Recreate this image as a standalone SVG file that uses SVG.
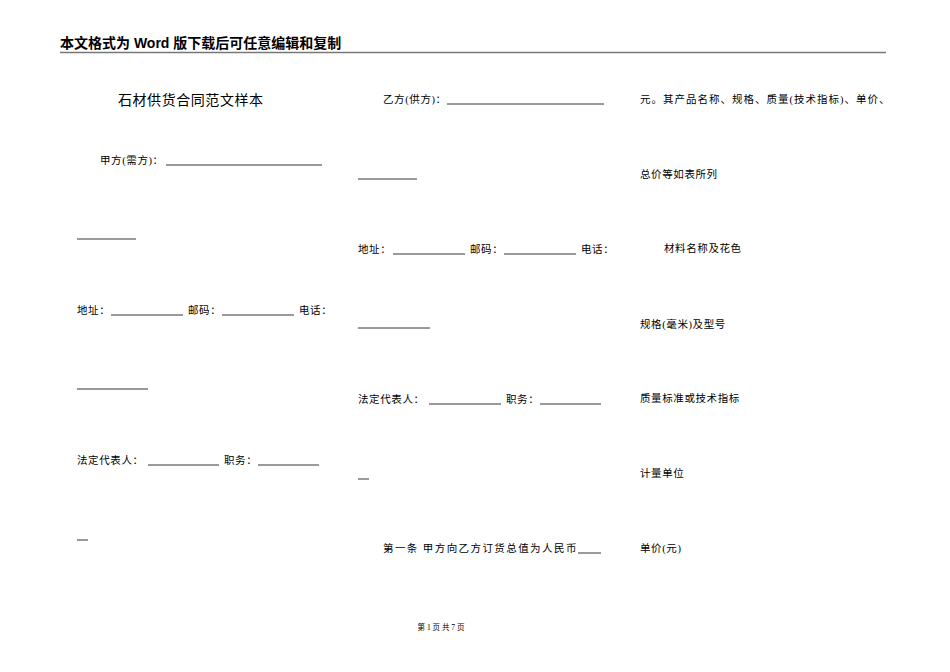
<svg xmlns="http://www.w3.org/2000/svg" width="950" height="672" viewBox="0 0 950 672">
<style>
.t{font-family:"Liberation Serif","Noto Sans CJK SC",serif;font-size:10.5px;fill:#000;letter-spacing:0.6px}
.h{font-family:"Liberation Sans","Noto Sans CJK SC",sans-serif;font-size:14px;fill:#000}
.u{stroke:#000;stroke-width:0.8}
</style>
<rect width="950" height="672" fill="#fff"/>
<text class="h" x="60" y="48" font-weight="bold">本文格式为 Word 版下载后可任意编辑和复制</text>
<line x1="60" y1="52.5" x2="886" y2="52.5" stroke="#777" stroke-width="1.5"/>
<text class="h" x="118" y="105" textLength="145">石材供货合同范文样本</text>
<g id="col1">
<text class="t" x="100" y="164">甲方(需方)：</text><line class="u" x1="166" y1="165" x2="322" y2="165"/>
<line class="u" x1="77" y1="239" x2="136" y2="239"/>
<text class="t" x="77" y="314">地址：</text><line class="u" x1="111" y1="315" x2="183" y2="315"/>
<text class="t" x="188" y="314">邮码：</text><line class="u" x1="222" y1="315" x2="294" y2="315"/>
<text class="t" x="299" y="314">电话：</text>
<line class="u" x1="77" y1="389" x2="148" y2="389"/>
<text class="t" x="77" y="464">法定代表人：</text><line class="u" x1="148" y1="465" x2="219" y2="465"/>
<text class="t" x="224" y="464">职务：</text><line class="u" x1="258" y1="465" x2="319" y2="465"/>
<line class="u" x1="77" y1="540" x2="88" y2="540"/>
</g>
<g id="col2">
<text class="t" x="383" y="103">乙方(供方)：</text><line class="u" x1="447" y1="104" x2="604" y2="104"/>
<line class="u" x1="358" y1="179" x2="417" y2="179"/>
<text class="t" x="358" y="253">地址：</text><line class="u" x1="393" y1="254" x2="465" y2="254"/>
<text class="t" x="470" y="253">邮码：</text><line class="u" x1="504" y1="254" x2="576" y2="254"/>
<text class="t" x="581" y="253">电话：</text>
<line class="u" x1="358" y1="328" x2="430" y2="328"/>
<text class="t" x="358" y="403">法定代表人：</text><line class="u" x1="429" y1="404" x2="501" y2="404"/>
<text class="t" x="506" y="403">职务：</text><line class="u" x1="540" y1="404" x2="601" y2="404"/>
<line class="u" x1="358" y1="479" x2="369" y2="479"/>
<text class="t" x="383" y="552" textLength="194" lengthAdjust="spacing">第一条 甲方向乙方订货总值为人民币</text><line class="u" x1="578" y1="553" x2="601" y2="553"/>
</g>
<g id="col3">
<text class="t" x="640" y="103" textLength="250" lengthAdjust="spacing">元。其产品名称、规格、质量(技术指标)、单价、</text>
<text class="t" x="640" y="178">总价等如表所列</text>
<text class="t" x="664" y="252">材料名称及花色</text>
<text class="t" x="640" y="328">规格(毫米)及型号</text>
<text class="t" x="640" y="402">质量标准或技术指标</text>
<text class="t" x="640" y="477">计量单位</text>
<text class="t" x="640" y="552">单价(元)</text>
</g>
<text x="441" y="630" text-anchor="middle" style="font-family:'Liberation Serif','Noto Sans CJK SC',serif;font-size:7.5px">第 1 页 共 7 页</text>
</svg>
